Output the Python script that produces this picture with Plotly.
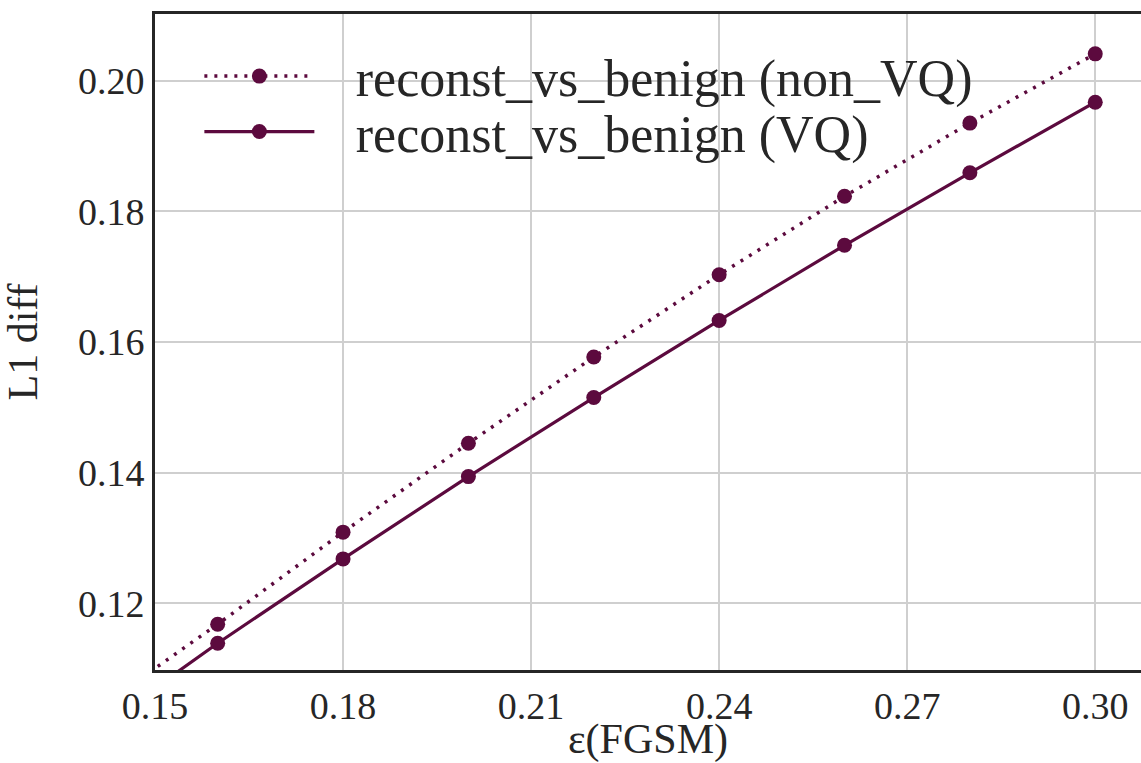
import plotly.graph_objects as go

eps = [0.14, 0.16, 0.18, 0.20, 0.22, 0.24, 0.26, 0.28, 0.30]
non_vq = [0.1033, 0.1168, 0.1309, 0.1445, 0.1577, 0.1703, 0.1823, 0.1935, 0.2041]
vq = [0.1002, 0.1139, 0.1268, 0.1394, 0.1515, 0.1633, 0.1748, 0.1859, 0.1967]
x_ticks = [0.15, 0.18, 0.21, 0.24, 0.27, 0.30]
y_ticks = [0.12, 0.14, 0.16, 0.18, 0.20]
names = ["reconst_vs_benign (non_VQ)", "reconst_vs_benign (VQ)"]

color = "#5c0a3e"
txt = "#262626"
font = "Liberation Serif"
pad = "\u00a0\u00a0\u2009"

fig = go.Figure()
fig.add_trace(go.Scatter(x=eps, y=non_vq, mode="lines+markers",
                         name=pad + names[0], legend="legend",
                         line=dict(color=color, width=3.5, dash="3px,7px"),
                         marker=dict(color=color, size=15)))
fig.add_trace(go.Scatter(x=eps, y=vq, mode="lines+markers",
                         name=pad + names[1], legend="legend2",
                         line=dict(color=color, width=3.2),
                         marker=dict(color=color, size=15)))

leg_common = dict(xanchor="left", yanchor="middle", bgcolor="rgba(0,0,0,0)",
                  font=dict(size=52, color=txt, family=font), itemwidth=110)

fig.update_layout(
    width=1141, height=763,
    margin=dict(l=155, r=0, t=14, b=87),
    paper_bgcolor="white", plot_bgcolor="white",
    font=dict(family=font, color=txt, size=38),
    showlegend=True,
    legend=dict(x=0.045, y=0.905, **leg_common),
    legend2=dict(x=0.045, y=0.8205, **leg_common),
    xaxis=dict(range=[0.15, 0.3073], tickvals=x_ticks,
               ticktext=[f"{v:.2f}" for v in x_ticks],
               showgrid=True, gridcolor="#cfcfcf", gridwidth=1.5,
               showline=True, linecolor=txt, linewidth=3, mirror=True,
               ticks="", zeroline=False,
               tickfont=dict(family=font, size=38, color=txt),
               title=dict(text="\u03b5(FGSM)", font=dict(size=42, family=font, color=txt), standoff=7)),
    yaxis=dict(range=[0.1098, 0.2102], tickvals=y_ticks,
               ticktext=[f"{v:.2f}" for v in y_ticks],
               showgrid=True, gridcolor="#cfcfcf", gridwidth=1.5,
               showline=True, linecolor=txt, linewidth=3,
               ticks="", zeroline=False,
               tickfont=dict(family=font, size=38, color=txt),
               title=dict(text="L1 diff", font=dict(size=42, family=font, color=txt), standoff=28)),
)

fig.write_html("out.html")
